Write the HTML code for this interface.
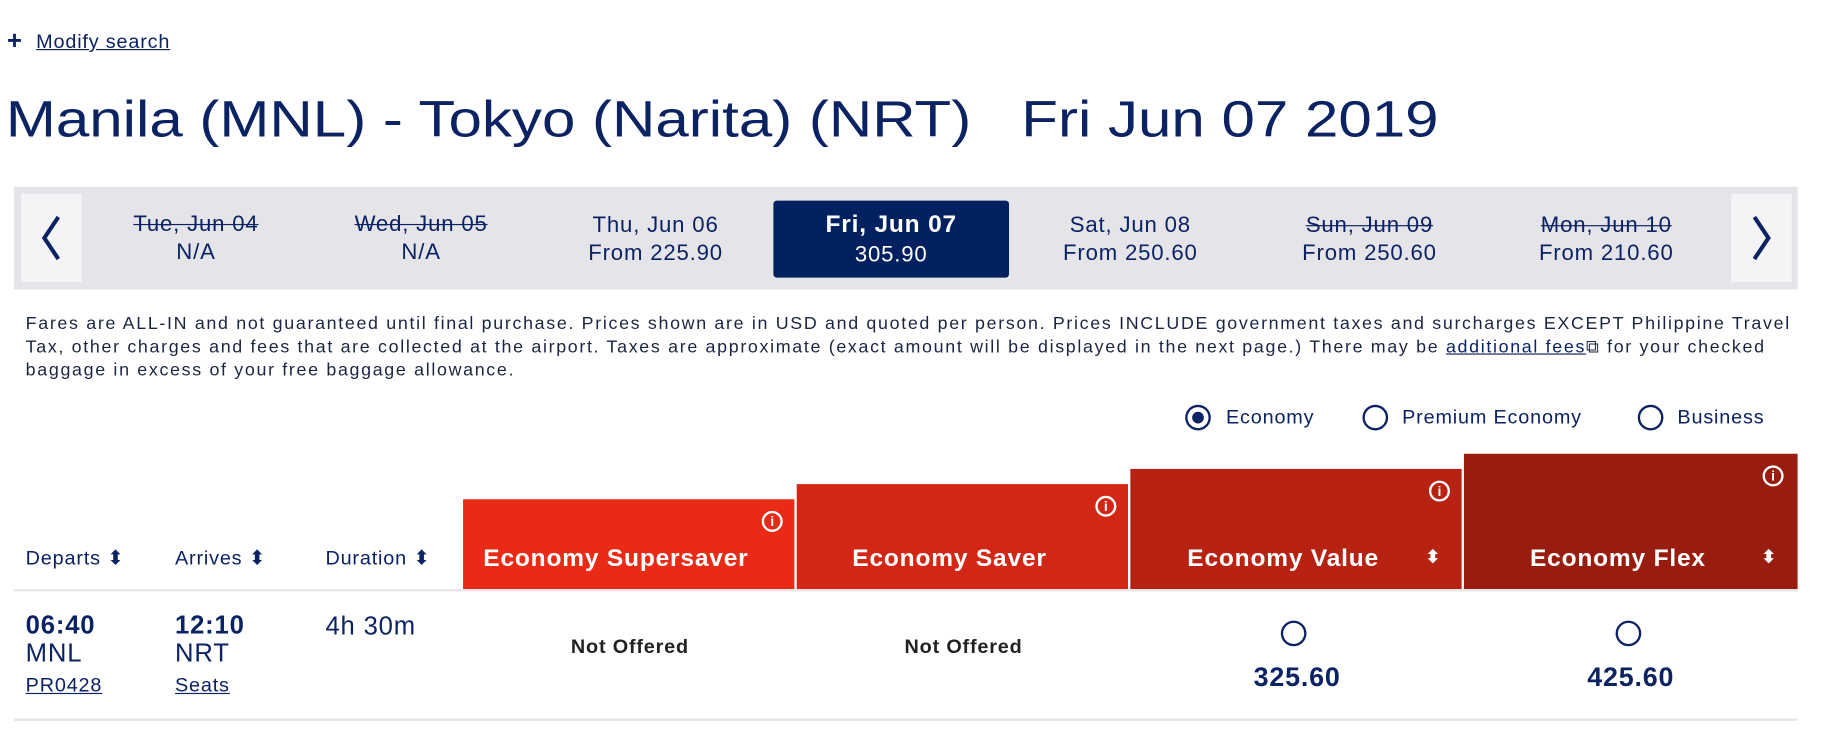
<!DOCTYPE html>
<html><head><meta charset="utf-8"><style>
html,body{margin:0;padding:0;background:#fff;overflow:hidden}
body{width:1829px;height:729px}
#wrap{position:absolute;left:0;top:0;width:1568px;height:625px;transform:scale(1.1665);transform-origin:0 0;font-family:"Liberation Sans",sans-serif;color:#0b2263;letter-spacing:0.7px}
.a{position:absolute;white-space:nowrap}
.c{position:absolute;white-space:nowrap;transform:translateX(-50%);text-align:center}
.strike{text-decoration:line-through}
.hdr{position:absolute;color:#fff;font-weight:bold;font-size:21px}
.circ{position:absolute;border:2px solid #0b2263;border-radius:50%;box-sizing:border-box}
.info{position:absolute;width:18px;height:18px;border:2px solid #fff;border-radius:50%;box-sizing:border-box;color:#fff;font-size:12px;font-weight:bold;text-align:center;line-height:14px;letter-spacing:0}
</style></head><body>
<div id="wrap">
<div class="a" style="left:6px;top:22px;font-size:22px;font-weight:bold">+</div>
<div class="a" style="left:31px;top:26px;font-size:17px;text-decoration:underline">Modify search</div>
<div class="a" style="left:5px;top:78px;font-size:44px;letter-spacing:0;transform:scaleX(1.17);transform-origin:0 0">Manila (MNL) - Tokyo (Narita) (NRT) &nbsp; Fri Jun 07 2019</div>

<div class="a" style="left:12px;top:160px;width:1529px;height:88px;background:#e5e4e9"></div>
<div class="a" style="left:18px;top:166px;width:52px;height:76px;background:#f4f4f6"><svg width="52" height="76"><polyline points="32,20 20,38 32,56" fill="none" stroke="#0b2263" stroke-width="3.5"/></svg></div>
<div class="a" style="left:1484px;top:166px;width:52px;height:76px;background:#f4f4f6"><svg width="52" height="76"><polyline points="20,20 32,38 20,56" fill="none" stroke="#0b2263" stroke-width="3.5"/></svg></div>
<div class="a" style="left:663px;top:172px;width:202px;height:66px;background:#01205f;border-radius:3px"></div>

<div class="c strike" style="left:168px;top:182px;font-size:19px">Tue, Jun 04<br><span style="text-decoration:none;display:inline-block;margin-top:2px">N/A</span></div>
<div class="c strike" style="left:361px;top:182px;font-size:19px">Wed, Jun 05<br><span style="text-decoration:none;display:inline-block;margin-top:2px">N/A</span></div>
<div class="c" style="left:562px;top:182px;font-size:19px;line-height:24px">Thu, Jun 06<br>From 225.90</div>
<div class="c" style="left:764px;top:180px;font-size:19px;line-height:25px;color:#fff"><b style="font-size:21px">Fri, Jun 07</b><br>305.90</div>
<div class="c" style="left:969px;top:182px;font-size:19px;line-height:24px">Sat, Jun 08<br>From 250.60</div>
<div class="c" style="left:1174px;top:182px;font-size:19px;line-height:24px"><span class="strike">Sun, Jun 09</span><br>From 250.60</div>
<div class="c" style="left:1377px;top:182px;font-size:19px;line-height:24px"><span class="strike">Mon, Jun 10</span><br>From 210.60</div>

<div class="a" style="left:22px;top:268px;font-size:15.3px;line-height:20px;color:#1a2540;letter-spacing:1.43px">Fares are ALL-IN and not guaranteed until final purchase. Prices shown are in USD and quoted per person. Prices INCLUDE government taxes and surcharges EXCEPT Philippine Travel<br>Tax, other charges and fees that are collected at the airport. Taxes are approximate (exact amount will be displayed in the next page.) There may be <span style="color:#0b2263;text-decoration:underline">additional fees</span>&#x29C9; for your checked<br>baggage in excess of your free baggage allowance.</div>

<div class="circ" style="left:1016px;top:347px;width:22px;height:22px"><div style="position:absolute;left:4px;top:4px;width:10px;height:10px;border-radius:50%;background:#0b2263"></div></div>
<div class="a" style="left:1051px;top:348px;font-size:17px">Economy</div>
<div class="circ" style="left:1168px;top:347px;width:22px;height:22px"></div>
<div class="a" style="left:1202px;top:348px;font-size:17px">Premium Economy</div>
<div class="circ" style="left:1404px;top:347px;width:22px;height:22px"></div>
<div class="a" style="left:1438px;top:348px;font-size:17px">Business</div>

<div class="a" style="left:22px;top:469px;font-size:17px">Departs &#x2B0D;</div>
<div class="a" style="left:150px;top:469px;font-size:17px">Arrives &#x2B0D;</div>
<div class="a" style="left:279px;top:469px;font-size:17px">Duration &#x2B0D;</div>

<div class="a" style="left:397px;top:428px;width:284px;height:77px;background:#e82a16"><div class="info" style="left:256px;top:10px">i</div><div class="hdr" style="left:0;width:262px;top:39px;text-align:center">Economy Supersaver</div></div>
<div class="a" style="left:683px;top:415px;width:284px;height:90px;background:#d22715"><div class="info" style="left:256px;top:10px">i</div><div class="hdr" style="left:0;width:262px;top:52px;text-align:center">Economy Saver</div></div>
<div class="a" style="left:969px;top:402px;width:284px;height:103px;background:#b82213"><div class="info" style="left:256px;top:10px">i</div><div class="hdr" style="left:0;width:262px;top:65px;text-align:center">Economy Value</div><div class="hdr" style="left:253px;top:66px;font-size:15px">&#x2B0D;</div></div>
<div class="a" style="left:1255px;top:389px;width:286px;height:116px;background:#981c0f"><div class="info" style="left:256px;top:10px">i</div><div class="hdr" style="left:0;width:264px;top:78px;text-align:center">Economy Flex</div><div class="hdr" style="left:255px;top:79px;font-size:15px">&#x2B0D;</div></div>

<div class="a" style="left:12px;top:505px;width:1529px;height:2px;background:#e6e6e6"></div>

<div class="a" style="left:22px;top:524px;font-size:22px;line-height:24px"><b>06:40</b><br>MNL<br><span style="font-size:17px;text-decoration:underline;line-height:32px">PR0428</span></div>
<div class="a" style="left:150px;top:524px;font-size:22px;line-height:24px"><b>12:10</b><br>NRT<br><span style="font-size:17px;text-decoration:underline;line-height:32px">Seats</span></div>
<div class="a" style="left:279px;top:524px;font-size:22px">4h 30m</div>
<div class="c" style="left:540px;top:545px;font-size:17px;font-weight:bold;color:#222">Not Offered</div>
<div class="c" style="left:826px;top:545px;font-size:17px;font-weight:bold;color:#222">Not Offered</div>
<div class="circ" style="left:1098px;top:532px;width:22px;height:22px"></div>
<div class="c" style="left:1112px;top:567px;font-size:23px;font-weight:bold">325.60</div>
<div class="circ" style="left:1385px;top:532px;width:22px;height:22px"></div>
<div class="c" style="left:1398px;top:567px;font-size:23px;font-weight:bold">425.60</div>
<div class="a" style="left:12px;top:616px;width:1529px;height:2px;background:#e6e6e6"></div>
</div>
</body></html>
